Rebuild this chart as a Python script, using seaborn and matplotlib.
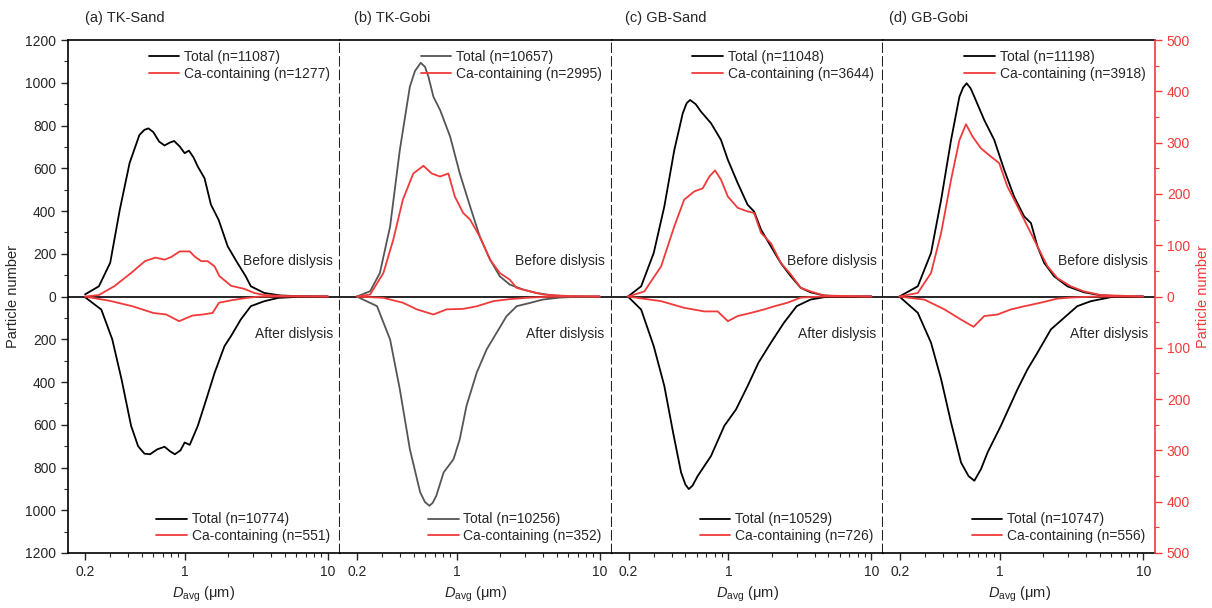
import matplotlib
matplotlib.use("Agg")
import matplotlib.pyplot as plt
import seaborn as sns
import numpy as np
from matplotlib.ticker import FixedLocator, LogLocator, MultipleLocator, FuncFormatter, NullFormatter

# readings: (D_avg in um, particle number); Ca curves are on the right (red) scale
a_total_before = [(0.2, 10), (0.25, 48), (0.3, 158), (0.35, 406), (0.41, 625), (0.48, 756), (0.52, 780), (0.555, 787),
                  (0.6, 770), (0.66, 725), (0.72, 707), (0.78, 720), (0.84, 728), (0.92, 702), (0.995, 671),
                  (1.066, 683), (1.15, 650), (1.23, 608), (1.37, 554), (1.52, 430), (1.72, 359), (1.99, 235),
                  (2.33, 157), (2.66, 95), (2.89, 48), (3.58, 17), (4.66, 5), (6, 2), (10, 0)]
a_ca_before = [(0.2, 0), (0.25, 3), (0.32, 20), (0.42, 46), (0.525, 69), (0.62, 76), (0.72, 72), (0.80, 77), (0.92, 88),
               (1.08, 88), (1.17, 78), (1.30, 69), (1.44, 69), (1.61, 59), (1.74, 40), (2.1, 21), (2.6, 15), (3.05, 7),
               (3.6, 3), (5, 1), (10, 0)]
a_total_after = [(0.2, -3), (0.26, -61), (0.31, -200), (0.36, -387), (0.42, -605), (0.47, -700), (0.52, -735),
                 (0.57, -738), (0.64, -715), (0.72, -703), (0.79, -725), (0.85, -738), (0.93, -720), (0.995, -683),
                 (1.08, -694), (1.23, -605), (1.41, -481), (1.61, -358), (1.89, -232), (2.1, -185), (2.46, -107),
                 (2.89, -45), (3.58, -22), (4.5, -6), (6, -2), (10, 0)]
a_ca_after = [(0.2, 0), (0.3, -8.5), (0.43, -19), (0.6, -32), (0.74, -35), (0.91, -48), (1.13, -37), (1.33, -35),
              (1.56, -32), (1.73, -12), (2.14, -7), (2.65, -3), (3.3, 0), (10, 0)]

b_total_before = [(0.2, 0), (0.248, 25), (0.29, 110), (0.342, 328), (0.40, 686), (0.47, 982), (0.51, 1055),
                  (0.56, 1094), (0.6, 1075), (0.634, 1029), (0.687, 935), (0.765, 873), (0.90, 748), (1.05, 577),
                  (1.24, 422), (1.45, 281), (1.71, 173), (2.0, 95), (2.35, 56), (2.91, 33), (3.6, 17), (4.7, 5),
                  (6, 1), (10, 0)]
b_ca_before = [(0.2, 0), (0.248, 4), (0.307, 46), (0.36, 111), (0.42, 189), (0.497, 240), (0.585, 255), (0.668, 240),
               (0.765, 234), (0.874, 240), (0.97, 195), (1.11, 163), (1.24, 150), (1.45, 117), (1.71, 72), (2.0, 46),
               (2.35, 33), (2.62, 17), (3.25, 10), (4.0, 4), (6, 1), (10, 0)]
b_total_after = [(0.2, 0), (0.277, -45), (0.342, -201), (0.40, -434), (0.47, -714), (0.555, -916), (0.6, -962),
                 (0.644, -979), (0.68, -965), (0.72, -932), (0.81, -823), (0.95, -761), (1.05, -668), (1.17, -512),
                 (1.38, -356), (1.62, -247), (1.90, -170), (2.23, -92), (2.63, -45), (3.25, -30), (4.0, -14),
                 (5.26, -5), (7, -1), (10, 0)]
b_ca_after = [(0.2, 0), (0.307, -2.5), (0.42, -12), (0.526, -25), (0.687, -35), (0.85, -25), (1.11, -24), (1.38, -19),
              (1.80, -9), (2.35, -5), (3.25, -2), (5, 0), (10, 0)]

c_total_before = [(0.198, 0), (0.245, 48), (0.30, 204), (0.356, 422), (0.418, 686), (0.479, 858), (0.51, 905),
                  (0.539, 920), (0.59, 900), (0.643, 865), (0.755, 811), (0.886, 733), (0.99, 640), (1.16, 531),
                  (1.36, 430), (1.51, 398), (1.69, 313), (1.98, 235), (2.32, 157), (2.73, 95), (3.2, 41), (3.75, 20),
                  (4.66, 5), (6, 1), (10, 0)]
c_ca_before = [(0.198, 0), (0.258, 10), (0.338, 59), (0.418, 137), (0.49, 189), (0.577, 205), (0.66, 211), (0.735, 234),
               (0.805, 246), (0.886, 228), (0.99, 195), (1.16, 173), (1.36, 166), (1.51, 163), (1.69, 124),
               (1.98, 104), (2.32, 66), (2.73, 43), (3.2, 17), (3.75, 10), (4.66, 2), (10, 0)]
c_total_after = [(0.198, 0), (0.245, -61), (0.30, -232), (0.356, -419), (0.41, -637), (0.466, -823), (0.5, -880),
                 (0.528, -901), (0.56, -885), (0.61, -839), (0.755, -746), (0.935, -605), (1.13, -528), (1.36, -419),
                 (1.62, -310), (1.98, -216), (2.44, -123), (3.0, -45), (3.75, -14), (4.66, -3), (10, 0)]
c_ca_after = [(0.198, 0), (0.338, -9), (0.49, -22), (0.678, -29), (0.84, -29), (0.99, -48), (1.16, -38), (1.43, -32),
              (1.78, -25), (2.09, -19), (2.59, -12), (3.2, -2), (4.5, 0), (10, 0)]

d_total_before = [(0.197, 0), (0.265, 48), (0.328, 204), (0.386, 453), (0.453, 733), (0.518, 935), (0.55, 978),
                  (0.582, 998), (0.62, 975), (0.659, 935), (0.773, 826), (0.908, 733), (1.066, 593), (1.25, 468),
                  (1.47, 375), (1.64, 344), (1.82, 235), (2.03, 157), (2.38, 95), (2.95, 48), (3.85, 20), (5.04, 6),
                  (7, 1), (10, 0)]
d_ca_before = [(0.197, 0), (0.265, 7), (0.328, 46), (0.386, 124), (0.453, 228), (0.518, 305), (0.576, 336),
               (0.64, 312), (0.733, 289), (0.86, 273), (0.984, 260), (1.12, 215), (1.32, 176), (1.55, 137),
               (1.82, 98), (2.14, 59), (2.51, 36), (3.11, 20), (3.85, 10), (5.04, 3), (10, 0)]
d_total_after = [(0.197, 0), (0.265, -76), (0.328, -216), (0.386, -387), (0.453, -590), (0.532, -777), (0.6, -840),
                 (0.659, -862), (0.733, -808), (0.815, -730), (1.01, -605), (1.32, -434), (1.55, -341), (1.82, -263),
                 (2.26, -154), (2.80, -99), (3.46, -45), (4.29, -22), (5.93, -3), (10, 0)]
d_ca_after = [(0.197, 0), (0.295, -6), (0.407, -25), (0.532, -45), (0.651, -59), (0.773, -38), (0.957, -35),
              (1.19, -25), (1.47, -19), (1.92, -12), (2.51, -4), (3.11, -2), (4.5, 0), (10, 0)]

titles = ['(a) TK-Sand', '(b) TK-Gobi', '(c) GB-Sand', '(d) GB-Gobi']
n_total_before = [11087, 10657, 11048, 11198]
n_ca_before = [1277, 2995, 3644, 3918]
n_total_after = [10774, 10256, 10529, 10747]
n_ca_after = [551, 352, 726, 556]

panels = [
    (a_total_before, a_ca_before, a_total_after, a_ca_after),
    (b_total_before, b_ca_before, b_total_after, b_ca_after),
    (c_total_before, c_ca_before, c_total_after, c_ca_after),
    (d_total_before, d_ca_before, d_total_after, d_ca_after),
]

RED = '#F03A3A'
DASH = '#222222'

sns.set_style("ticks")
plt.rcParams['font.family'] = ['Liberation Sans', 'DejaVu Sans']
plt.rcParams['mathtext.fontset'] = 'custom'
plt.rcParams['mathtext.rm'] = 'Liberation Sans'
plt.rcParams['mathtext.it'] = 'Liberation Sans:italic'
plt.rcParams['font.size'] = 10

fig, axes = plt.subplots(1, 4, figsize=(12.12, 6.08), dpi=100, sharey=True)
fig.subplots_adjust(left=0.0561, right=0.953, top=0.934, bottom=0.0905, wspace=0)

title_x = [0.062, 0.053, 0.048, 0.02]


def draw(ax, pts, color):
    sns.lineplot(x=[p[0] for p in pts], y=[p[1] for p in pts], ax=ax, color=color,
                 lw=1.3, estimator=None, sort=False)
    line = ax.lines[-1]
    line.set_solid_joinstyle('round')
    return line


for i, ax in enumerate(axes):
    tot_b, ca_b, tot_a, ca_a = panels[i]
    tw = ax.twinx()
    black = '#555555' if i == 1 else 'black'

    ax.axhline(0, color='black', lw=1.2, zorder=1)
    h1 = draw(ax, tot_b, black)
    h3 = draw(ax, tot_a, black)
    h2 = draw(tw, ca_b, RED)
    h4 = draw(tw, ca_a, RED)

    ax.set_xscale('log')
    ax.set_xlim(0.152, 12.1)
    ax.set_ylim(-1200, 1200)
    tw.set_ylim(-500, 500)

    ax.xaxis.set_major_locator(FixedLocator([0.2, 1, 10]))
    ax.xaxis.set_major_formatter(FuncFormatter(lambda v, p: '%g' % v))
    ax.xaxis.set_minor_locator(LogLocator(base=10, subs=np.arange(2, 10)))
    ax.xaxis.set_minor_formatter(NullFormatter())
    ax.tick_params(axis='x', which='major', length=5, width=1, direction='out', labelsize=10)
    ax.tick_params(axis='x', which='minor', length=3, width=0.8, direction='out')
    ax.set_xlabel(r'$D_{\rm avg}$ (μm)', fontsize=10.5)

    ax.yaxis.set_major_locator(MultipleLocator(200))
    ax.yaxis.set_minor_locator(MultipleLocator(100))
    ax.yaxis.set_major_formatter(FuncFormatter(lambda v, p: '%d' % abs(v)))

    for s in tw.spines.values():
        s.set_visible(False)
    for s in ['top', 'bottom', 'left', 'right']:
        ax.spines[s].set_color('black')
        ax.spines[s].set_linewidth(1.2)

    if i == 0:
        ax.set_ylabel('Particle number', fontsize=10.5)
        ax.tick_params(axis='y', which='major', length=5, width=1, labelsize=10)
        ax.tick_params(axis='y', which='minor', length=3, width=0.8)
    else:
        ax.spines['left'].set_visible(False)
        ax.tick_params(axis='y', which='both', left=False, labelleft=False)

    if i < 3:
        ax.spines['right'].set_linestyle((0, (4, 2.5)))
        ax.spines['right'].set_color(DASH)
        ax.spines['right'].set_linewidth(1.5)
        tw.tick_params(axis='y', which='both', right=False, labelright=False)
        tw.set_ylabel('')
    else:
        ax.spines['right'].set_visible(False)
        tw.spines['right'].set_visible(True)
        tw.spines['right'].set_color(RED)
        tw.spines['right'].set_linewidth(1.2)
        tw.yaxis.set_major_locator(MultipleLocator(100))
        tw.yaxis.set_minor_locator(MultipleLocator(50))
        tw.yaxis.set_major_formatter(FuncFormatter(lambda v, p: '%d' % abs(v)))
        tw.tick_params(axis='y', which='major', length=5, width=1, colors=RED, labelsize=10)
        tw.tick_params(axis='y', which='minor', length=3, width=0.8, colors=RED)
        tw.set_ylabel('Particle number', color=RED, fontsize=10.5)

    leg_kw = dict(frameon=False, fontsize=10, handlelength=2.2, handletextpad=0.35,
                  labelspacing=0.2, borderaxespad=0.3)
    top = tw.legend(handles=[h1, h2],
                    labels=['Total (n=%d)' % n_total_before[i], 'Ca-containing (n=%d)' % n_ca_before[i]],
                    loc='upper right', **leg_kw)
    tw.add_artist(top)
    tw.legend(handles=[h3, h4],
              labels=['Total (n=%d)' % n_total_after[i], 'Ca-containing (n=%d)' % n_ca_after[i]],
              loc='lower right', **leg_kw)

    ax.text(0.975, 165, 'Before dislysis', transform=ax.get_yaxis_transform(), ha='right', va='center', fontsize=10)
    ax.text(0.975, -175, 'After dislysis', transform=ax.get_yaxis_transform(), ha='right', va='center', fontsize=10)
    ax.text(title_x[i], 1.043, titles[i], transform=ax.transAxes, ha='left', va='center', fontsize=10.5)

fig.savefig('out.png', dpi=100)
